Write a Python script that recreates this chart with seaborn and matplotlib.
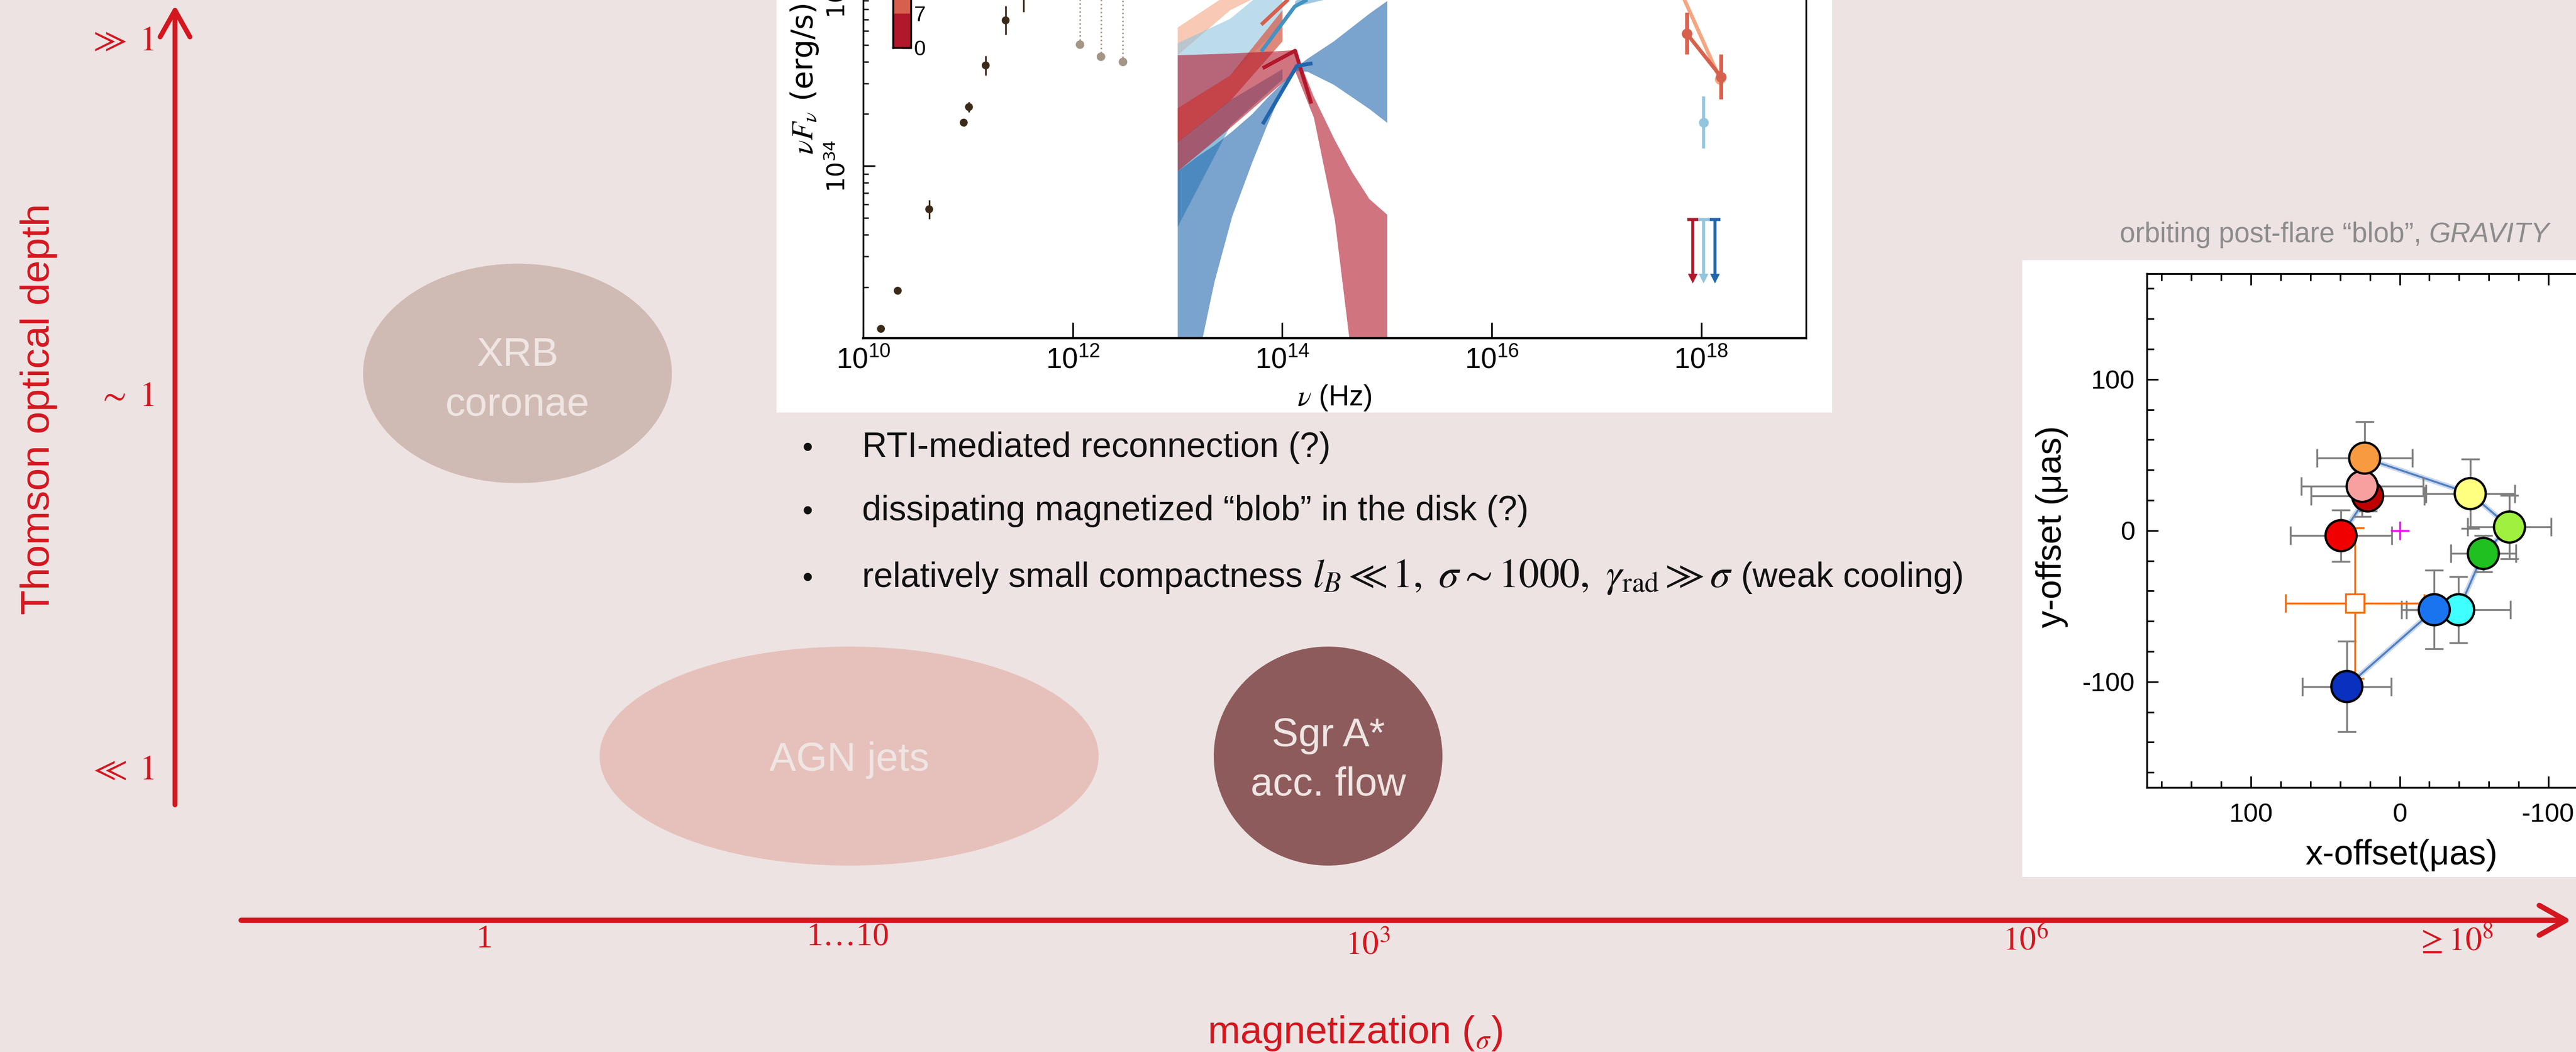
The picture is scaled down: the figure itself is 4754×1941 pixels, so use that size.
import numpy as np
import pandas as pd
import matplotlib
matplotlib.use('Agg')
import matplotlib.pyplot as plt
import seaborn as sns
from matplotlib.patches import Ellipse, Rectangle
from matplotlib.colors import ListedColormap, BoundaryNorm
from matplotlib.cm import ScalarMappable
from matplotlib.ticker import MultipleLocator, LogLocator, NullLocator, NullFormatter

sns.set_theme(style='ticks')
plt.rcParams['font.family'] = ['Liberation Sans', 'DejaVu Sans']
plt.rcParams['mathtext.fontset'] = 'stix'
plt.rcParams['axes.unicode_minus'] = False

W, H = 4754, 1941
BG = '#ede3e2'
RED = '#d4161f'

# ==========================================
# data
# ==========================================
# regimes on the (sigma, tau) plane
regime_lines = [['XRB', 'coronae'], ['AGN jets'], ['Sgr A*', 'acc. flow']]
regime_colors = ['#d0bbb4', '#e6c1bb', '#8d5b5c']

tau_labels = [r'$\gg\ 1$', r'$\sim\ 1$', r'$\ll\ 1$']
sigma_labels = ['1', '1…10', r'$10^3$', r'$10^6$', r'$\geq 10^8$']

bullets = ['RTI-mediated reconnection (?)',
           'dissipating magnetized “blob” in the disk (?)',
           'relatively small compactness']
bullet3_math = r'$l_B \ll 1,\ \sigma \sim 1000,\ \gamma_{\rm rad} \gg \sigma$'
bullet3_tail = '(weak cooling)'

# SED inset (log10 nu [Hz], log10 nu L_nu [erg/s])
radio_lognu = [10.17, 10.33, 10.63, 10.96, 11.01, 11.17, 11.36, 11.53]
radio_logL = [33.06, 33.28, 33.75, 34.25, 34.34, 34.58, 34.84, 35.00]
radio_err = [0.012, 0.02, 0.055, 0.02, 0.03, 0.056, 0.083, 0.11]

submm_lognu = [12.07, 12.27, 12.48]
submm_logL = [34.70, 34.63, 34.60]

band_x3 = [13.0, 13.5, 14.0]
salmon_lo = [34.64, 34.90, 35.05]
salmon_hi = [34.80, 35.00, 35.25]
lblue_lo = [34.335, 34.52, 34.82]
lblue_hi = [34.71, 34.85, 35.10]
coral_lo = [34.137, 34.376, 34.72]
coral_hi = [34.335, 34.523, 34.90]
mblue_lo = [33.65, 34.23, 34.50]
mblue_hi = [34.14, 34.38, 34.56]

red_x = [13.0, 13.5, 14.0, 14.12, 14.3, 14.5, 14.66, 14.83, 15.0]
red_hi = [34.64, 34.65, 34.665, 34.67, 34.40, 34.15, 33.97, 33.81, 33.72]
red_lo = [33.97, 34.22, 34.48, 34.55, 34.28, 33.69, 32.90, 32.90, 32.90]

blue_x = [13.0, 13.2, 13.35, 13.52, 13.71, 13.85, 14.0, 14.13, 14.24, 14.49, 14.66, 14.83, 15.0]
blue_hi = [33.97, 34.06, 34.12, 34.20, 34.30, 34.39, 34.48, 34.57, 34.62, 34.72, 34.80, 34.88, 34.953]
blue_lo = [32.90, 32.90, 33.33, 33.71, 34.02, 34.23, 34.44, 34.55, 34.545, 34.47, 34.40, 34.33, 34.25]

seg_red_x, seg_red_y = [13.813, 14.123, 14.278], [34.564, 34.665, 34.360]
seg_blue_x, seg_blue_y = [13.813, 14.139, 14.289], [34.241, 34.577, 34.592]
seg_mblue_x, seg_mblue_y = [13.80, 14.12, 14.24], [34.66, 34.92, 34.96]
seg_coral_x, seg_coral_y = [13.80, 14.06], [34.815, 34.962]
lbow_x, lbow_lo, lbow_hi = [14.12, 14.4, 14.7], [34.92, 34.96, 34.99], [34.95, 35.1, 35.2]

xr_coral_x, xr_coral_y, xr_coral_err = [17.86, 18.19], [34.765, 34.514], [0.12, 0.13]
xr_salmon_x, xr_salmon_y = [17.75, 18.18], [35.08, 34.50]
xr_lblue_x, xr_lblue_y, xr_lblue_err = [18.02], [34.25], [0.15]
ul_x = [17.92, 18.02, 18.13]
ul_top, ul_bot = 33.69, 33.35
ul_colors = ['#b2182b', '#92c5de', '#2166ac']

cbar_bounds = [0, 7, 14, 21, 28, 35]
cbar_labels = [0, 7]
cbar_colors = ['#b2182b', '#d6604d', '#f4a582', '#92c5de', '#4393c3']

# orbit inset (micro-arcsec)
orb_names = ['red', 'darkred', 'pink', 'orange', 'yellow', 'lightgreen', 'green', 'cyan', 'blue', 'darkblue']
orb_colors = ['#f00000', '#c00000', '#f8a0a0', '#f89a40', '#ffff80', '#a0f040', '#20c020', '#40ffff', '#1a74f0', '#0a30c0']
orb_x = [39.4, 21.5, 25.2, 23.5, -47.5, -73.9, -56.3, -39.7, -23.3, 35.5]
orb_y = [-3.4, 22.9, 29.2, 47.9, 24.4, 2.3, -15.2, -52.4, -52.4, -103.2]
orb_xerr = [34, 38, 41, 32, 30, 28, 22, 35, 22, 30]
orb_yerr = [17, 10, 20, 24, 23, 21, 12, 22, 26, 30]
sq_x, sq_y, sq_xerr, sq_yerr = [30.1], [-48.1], [46.5], [50]

# ==========================================
# figure / slide background
# ==========================================
fig = plt.figure(figsize=(W / 100, H / 100), dpi=100)
fig.patch.set_facecolor(BG)

ax_bg = fig.add_axes([0, 0, 1, 1], zorder=0)
ax_bg.set_xlim(0, W)
ax_bg.set_ylim(H, 0)
ax_bg.axis('off')

ax_bg.add_patch(Rectangle((1433, -10), 1948, 771, facecolor='white', edgecolor='none'))
ax_bg.add_patch(Rectangle((3732, 480), 1100, 1138, facecolor='white', edgecolor='none'))

# ellipses (slide layout in pixels)
ell_geom = [(955, 689, 570, 405), (1567, 1395, 921, 404), (2451, 1395, 422, 404)]
ell_base = [[675, 767], [1422], [1377, 1468]]
for lines, col, (cx, cy, w, h), bases in zip(regime_lines, regime_colors, ell_geom, ell_base):
    ax_bg.add_patch(Ellipse((cx, cy), w, h, facecolor=col, edgecolor='none'))
    for txt, yb in zip(lines, bases):
        ax_bg.text(cx, yb, txt, ha='center', va='baseline', fontsize=53, color='#efe5e3')

# axes arrows
ax_bg.annotate('', xy=(323, 10), xytext=(323, 1485),
               arrowprops=dict(arrowstyle='->,head_length=1.6,head_width=0.9', lw=6.5, color=RED,
                               shrinkA=0, shrinkB=0, mutation_scale=22))
ax_bg.annotate('', xy=(4745, 1698), xytext=(445, 1698),
               arrowprops=dict(arrowstyle='->,head_length=1.6,head_width=0.9', lw=7, color=RED,
                               shrinkA=0, shrinkB=0, mutation_scale=22))

ax_bg.text(91, 755, 'Thomson optical depth', rotation=90, rotation_mode='anchor',
           ha='center', va='baseline', fontsize=54, color=RED)
for lab, yb in zip(tau_labels, [93, 749, 1438]):
    ax_bg.text(285, yb, lab, ha='right', va='baseline', fontsize=46, color=RED)
for lab, xc, yb in zip(sigma_labels, [894, 1565, 2524, 3738, 4530], [1748, 1743, 1760, 1753, 1753]):
    ax_bg.text(xc, yb, lab, ha='center', va='baseline', fontsize=44, color=RED,
               family=['Liberation Serif', 'DejaVu Serif'])
ax_bg.text(2501, 1925, r'magnetization (${}_{\sigma}$)', ha='center', va='baseline', fontsize=52, color=RED)

# bullet list
for txt, yb in zip(bullets, [843, 960, 1083]):
    ax_bg.text(1481, yb, '•', ha='left', va='baseline', fontsize=40, color='#111111')
    last = ax_bg.text(1591, yb, txt, ha='left', va='baseline', fontsize=46, color='#111111')
mth = ax_bg.annotate(bullet3_math, xy=(1, 1083), xycoords=(last, 'data'), xytext=(13, 0),
                     textcoords='offset points', ha='left', va='baseline', fontsize=54, color='#111111')
ax_bg.annotate(bullet3_tail, xy=(1, 1083), xycoords=(mth, 'data'), xytext=(11, 0),
               textcoords='offset points', ha='left', va='baseline', fontsize=46, color='#111111')

# ==========================================
# SED inset
# ==========================================
ax = fig.add_axes([1593 / W, 1 - 624 / H, 1740 / W, 797.5 / H], zorder=2)
ax.set_facecolor('white')
ax.set_xscale('log')
ax.set_yscale('log')


def band(xs, lo, hi, color, alpha=0.6):
    ax.fill_between(10 ** np.array(xs), 10 ** np.array(lo), 10 ** np.array(hi),
                    color=color, alpha=alpha, lw=0)


band(band_x3, salmon_lo, salmon_hi, '#f4a582')
band(band_x3, lblue_lo, lblue_hi, '#92c5de')
band(band_x3, coral_lo, coral_hi, '#d6604d', 0.75)
band(band_x3, mblue_lo, mblue_hi, '#4393c3')
band(lbow_x, lbow_lo, lbow_hi, '#4393c3', 0.5)
band(red_x, red_lo, red_hi, '#b2182b', 0.6)
band(blue_x, blue_lo, blue_hi, '#2166ac', 0.6)

for sx, sy, c in [(seg_coral_x, seg_coral_y, '#d6604d'), (seg_mblue_x, seg_mblue_y, '#4393c3'),
                  (seg_red_x, seg_red_y, '#b2182b'), (seg_blue_x, seg_blue_y, '#2166ac')]:
    ax.plot(10 ** np.array(sx), 10 ** np.array(sy), color=c, lw=5, solid_capstyle='butt')

# radio / mm points
rx, ry, re = np.array(radio_lognu), np.array(radio_logL), np.array(radio_err)
ax.errorbar(10 ** rx, 10 ** ry, yerr=[10 ** ry - 10 ** (ry - re), 10 ** (ry + re) - 10 ** ry],
            fmt='none', ecolor='#3b2a18', lw=2.2)
sns.scatterplot(x=10 ** rx, y=10 ** ry, ax=ax, color='#3b2a18', s=110, marker='o', edgecolor='none', zorder=4)

# sub-mm points with dotted lines
smx, smy = 10 ** np.array(submm_lognu), 10 ** np.array(submm_logL)
ax.vlines(smx, smy, 10 ** 35.5, colors='#a39686', linestyles=':', lw=2)
sns.scatterplot(x=smx, y=smy, ax=ax, color='#a39686', s=130, edgecolor='none', zorder=4)

# X-ray
cx_, cy_, ce_ = np.array(xr_coral_x), np.array(xr_coral_y), np.array(xr_coral_err)
ax.plot(10 ** np.array(xr_salmon_x), 10 ** np.array(xr_salmon_y), color='#f4a582', lw=5)
ax.plot(10 ** np.array(xr_salmon_x), 10 ** np.array(xr_salmon_y), 'o', color='#f4a582', ms=13)
ax.errorbar(10 ** cx_, 10 ** cy_, yerr=[10 ** cy_ - 10 ** (cy_ - ce_), 10 ** (cy_ + ce_) - 10 ** cy_],
            color='#d6604d', lw=5, marker='o', ms=13)
lx, ly, le = np.array(xr_lblue_x), np.array(xr_lblue_y), np.array(xr_lblue_err)
ax.errorbar(10 ** lx, 10 ** ly, yerr=[10 ** ly - 10 ** (ly - le), 10 ** (ly + le) - 10 ** ly],
            color='#92c5de', lw=4, marker='o', ms=12)
for xu, cu in zip(ul_x, ul_colors):
    ax.vlines(10 ** xu, 10 ** ul_bot, 10 ** ul_top, colors=cu, lw=4)
    ax.plot([10 ** xu], [10 ** ul_top], marker='_', color=cu, ms=14, mew=4)
    ax.plot([10 ** xu], [10 ** ul_bot], marker='v', color=cu, ms=13, mew=0)

ax.set_xlim(1e10, 1e19)
ax.set_ylim(10 ** 33.006, 10 ** 35.5)
ax.set_xticks([1e10, 1e12, 1e14, 1e16, 1e18])
ax.xaxis.set_minor_locator(NullLocator())
ax.set_yticks([1e34, 1e35])
ax.yaxis.set_minor_locator(LogLocator(base=10, subs=np.arange(2, 10)))
ax.yaxis.set_minor_formatter(NullFormatter())
ax.tick_params(axis='x', which='major', direction='in', length=21, width=2.2, labelsize=38, pad=12, colors='black')
ax.tick_params(axis='y', which='major', direction='in', length=16, width=2.2, labelsize=32, pad=18,
               labelrotation=90, colors='black')
ax.tick_params(axis='y', which='minor', direction='in', length=7, width=2.0)
plt.setp(ax.get_yticklabels(), va='center', family='DejaVu Sans')
for s in ['left', 'bottom', 'right', 'top']:
    ax.spines[s].set_color('black')
    ax.spines[s].set_linewidth(2.3)
ax.spines['bottom'].set_linewidth(3)
ax.set_xlabel(r'$\nu$ (Hz)', fontsize=38, color='black')
ax.set_ylabel(r'$\nu F_\nu$ (erg/s)', fontsize=40, color='black', family='DejaVu Sans')
ax.xaxis.label.set_va('center')
ax.yaxis.label.set_va('center')
ax.xaxis.set_label_coords(0.5, -0.138)
ax.yaxis.set_label_coords(-0.062, 0.60)

cb_ax = fig.add_axes([1648 / W, 1 - 88 / H, 33 / W, 315 / H], zorder=3)
cmap = ListedColormap(cbar_colors)
norm = BoundaryNorm(cbar_bounds, cmap.N)
cb = fig.colorbar(ScalarMappable(norm=norm, cmap=cmap), cax=cb_ax, ticks=cbar_labels)
cb.ax.tick_params(direction='in', length=12, width=2.5, labelsize=28, pad=4, colors='black')
cb.outline.set_linewidth(2.5)
cb.outline.set_edgecolor('black')

# ==========================================
# orbit inset
# ==========================================
ax_o = fig.add_axes([3962 / W, 1 - 1453 / H, 933 / W, 948.4 / H], zorder=2)
ax_o.set_facecolor('white')
orb = pd.DataFrame({'name': orb_names, 'x': orb_x, 'y': orb_y, 'xerr': orb_xerr, 'yerr': orb_yerr})

sns.lineplot(data=orb, x='x', y='y', ax=ax_o, sort=False, estimator=None, color='#c9d8ee', lw=7, zorder=1)
sns.lineplot(data=orb, x='x', y='y', ax=ax_o, sort=False, estimator=None, color='#4f7fbf', lw=2.5, zorder=2)
ax_o.errorbar(orb['x'], orb['y'], xerr=orb['xerr'], yerr=orb['yerr'], fmt='none',
              ecolor='#7f7f7f', elinewidth=2.5, capsize=12, capthick=2.5, zorder=3)
ax_o.errorbar(sq_x, sq_y, xerr=sq_xerr, yerr=sq_yerr, fmt='s', mfc='white', mec='#ff6a00', mew=2.5, ms=24,
              ecolor='#ff6a00', elinewidth=2.5, capsize=12, capthick=2.5, zorder=3)
ax_o.plot([0], [0], marker='+', color='#ff00ff', ms=24, mew=2.5, zorder=3)
sns.scatterplot(data=orb, x='x', y='y', hue='name', hue_order=orb_names,
                palette=dict(zip(orb_names, orb_colors)), s=1700, edgecolor='black', linewidth=3,
                legend=False, ax=ax_o, zorder=5)

ax_o.set_xlim(170, -170)
ax_o.set_ylim(-170, 170)
ax_o.set_xticks([100, 0, -100])
ax_o.set_yticks([100, 0, -100])
ax_o.xaxis.set_minor_locator(MultipleLocator(20))
ax_o.yaxis.set_minor_locator(MultipleLocator(20))
ax_o.tick_params(which='both', direction='in', top=True, right=True, width=2.2, colors='black')
ax_o.tick_params(which='major', length=15, labelsize=35)
ax_o.tick_params(which='minor', length=9)
ax_o.tick_params(axis='x', pad=20)
ax_o.tick_params(axis='y', pad=16)
for s in ax_o.spines.values():
    s.set_color('black')
    s.set_linewidth(2.5)
ax_o.set_xlabel('x-offset(μas)', fontsize=46, color='black')
ax_o.set_ylabel('y-offset (μas)', fontsize=46, color='black')
ax_o.xaxis.label.set_va('center')
ax_o.yaxis.label.set_va('center')
ax_o.xaxis.set_label_coords(0.503, -0.132)
ax_o.yaxis.set_label_coords(-0.1876, 0.508)

title = ax_bg.text(3912, 458, 'orbiting post-flare “blob”,', ha='left', va='bottom', fontsize=37, color='#8c8c8c')
ax_bg.annotate('GRAVITY', xy=(1, 0), xycoords=title, xytext=(10, 0), textcoords='offset points',
               ha='left', va='bottom', fontsize=37, color='#8c8c8c', style='italic')

fig.savefig('out.png', dpi=100, facecolor=BG)
